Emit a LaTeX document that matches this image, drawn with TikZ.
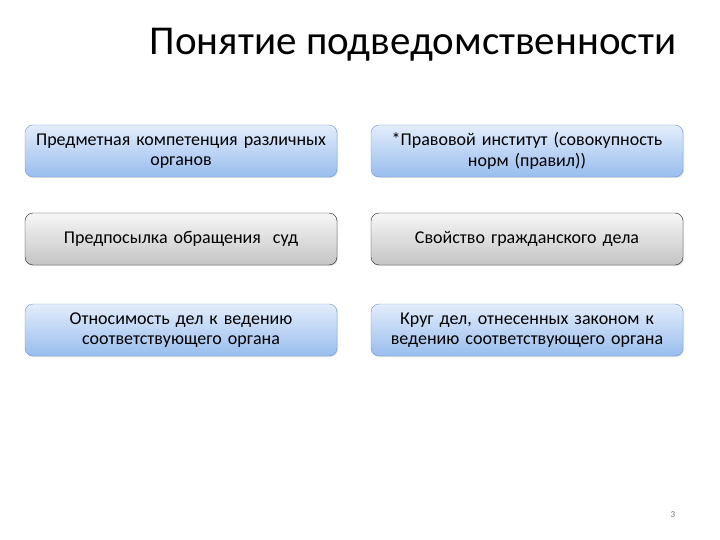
\documentclass[tikz,border=0pt]{standalone}
\usepackage{fontspec}
\setmainfont{Carlito}
\usetikzlibrary{shadows}
\definecolor{bluetop}{HTML}{E3EDFB}
\definecolor{bluebot}{HTML}{98BDEE}
\definecolor{blueline}{HTML}{6F97CF}
\definecolor{graytop}{HTML}{F7F7F7}
\definecolor{graybot}{HTML}{C4C4C4}
\tikzset{
	bluebox/.style={rounded corners=8pt, draw=blueline, top color=bluetop, bottom color=bluebot,
		minimum width=312pt, minimum height=52pt, text width=304pt, align=center,
		font=\fontsize{18}{20.5}\selectfont, text=black, drop shadow={opacity=0.25, shadow xshift=1pt, shadow yshift=-1pt}},
	graybox/.style={bluebox, draw=black!85, top color=graytop, bottom color=graybot}
}
\begin{document}
\begin{tikzpicture}[x=1pt, y=-1pt]
		\useasboundingbox (0,0) rectangle (720,540);
		\node (title) at (413, 45) {\fontsize{41}{46}\selectfont Понятие подведомственности};
		
		\node[bluebox] (predmet) at (181, 151) {Предметная компетенция различных\\ органов};
		\node[bluebox] (institut) at (527, 151) {*Правовой институт (совокупность\\ норм (правил))};
		\node[graybox] (predposylka) at (181, 239) {Предпосылка обращения~ суд};
		\node[graybox] (svoistvo) at (527, 239) {Свойство гражданского дела};
		\node[bluebox] (otnosimost) at (181, 330) {Относимость дел к ведению\\ соответствующего органа};
		\node[bluebox] (krug) at (527, 330) {Круг дел, отнесенных законом к\\ ведению соответствующего органа};
		
		\node[text=black!55, font=\fontsize{9}{10}\selectfont] (num) at (673, 515) {3};
\end{tikzpicture}
\end{document}
